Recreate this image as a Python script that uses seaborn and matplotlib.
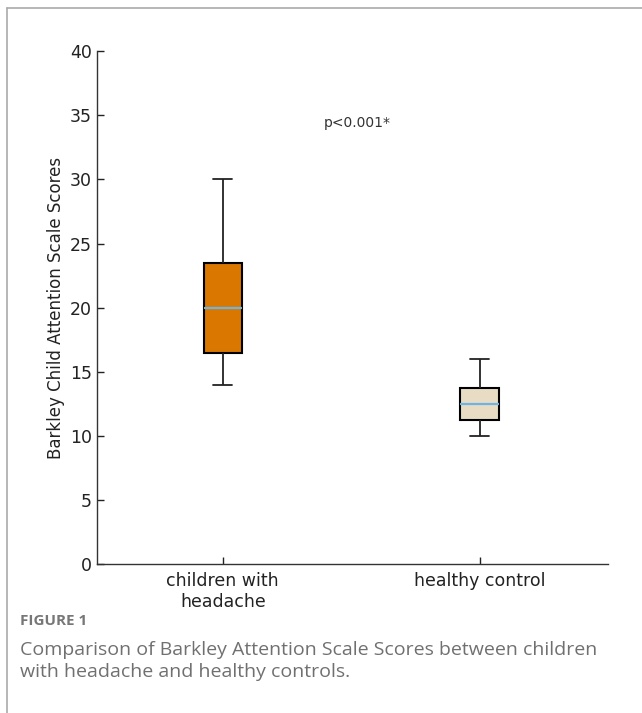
import matplotlib
matplotlib.use("Agg")
import matplotlib.pyplot as plt
import seaborn as sns
import pandas as pd
from matplotlib.lines import Line2D

# data: five-number summaries
groups = ["children with\nheadache", "healthy control"]
headache_scores = [14, 16.5, 20, 23.5, 30]
control_scores = [10, 11.25, 12.5, 13.75, 16]
box_colors = ["#D97700", "#E8DCC4"]
p_label = "p<0.001*"

data = pd.DataFrame({
    "group": [groups[0]] * len(headache_scores) + [groups[1]] * len(control_scores),
    "score": headache_scores + control_scores,
})

sns.set_style("white")
plt.rcParams["font.family"] = ["DejaVu Sans"]

fig = plt.figure(figsize=(6.42, 7.13), dpi=100)
ax = fig.add_axes([0.151, 0.209, 0.796, 0.719])

sns.boxplot(data=data, x="group", y="score", hue="group", palette=box_colors,
            saturation=1, width=0.15, whis=1.5, fliersize=0, legend=False, ax=ax,
            boxprops=dict(edgecolor="black", linewidth=1.5),
            whiskerprops=dict(color="#222222", linewidth=1.3),
            capprops=dict(color="#222222", linewidth=1.3),
            medianprops=dict(color="#6CB4E4", linewidth=1.6))

ax.set_ylim(0, 40)
ax.set_xlim(-0.49, 1.5)
ax.set_yticks(range(0, 41, 5))
ax.set_xlabel("")
ax.set_ylabel("Barkley Child Attention Scale Scores", fontsize=12, color="#222222")
ax.tick_params(axis="both", direction="in", length=5, width=1, labelsize=12.5,
               colors="#222222", left=True, bottom=True)
ax.tick_params(axis="x", pad=6)
sns.despine(ax=ax)
for s in ["left", "bottom"]:
    ax.spines[s].set_color("#333333")
    ax.spines[s].set_linewidth(1.0)

ax.text(0.525, 34.4, p_label, ha="center", va="center", fontsize=10, color="#333333")

# page frame and caption
fig.add_artist(Line2D([0.011, 0.011], [0, 0.989], color="#aaaaaa", lw=1.2))
fig.add_artist(Line2D([0.011, 1.0], [0.989, 0.989], color="#aaaaaa", lw=1.2))
fig.text(0.031, 0.129, "FIGURE 1", fontsize=11, color="#777777", fontweight="bold",
         family=["Open Sans", "DejaVu Sans"], va="center")
fig.text(0.031, 0.088, "Comparison of Barkley Attention Scale Scores between children",
         fontsize=14, color="#707070", family=["Open Sans", "DejaVu Sans"], va="center")
fig.text(0.031, 0.057, "with headache and healthy controls.",
         fontsize=14, color="#707070", family=["Open Sans", "DejaVu Sans"], va="center")

fig.savefig("out.png", dpi=100)
